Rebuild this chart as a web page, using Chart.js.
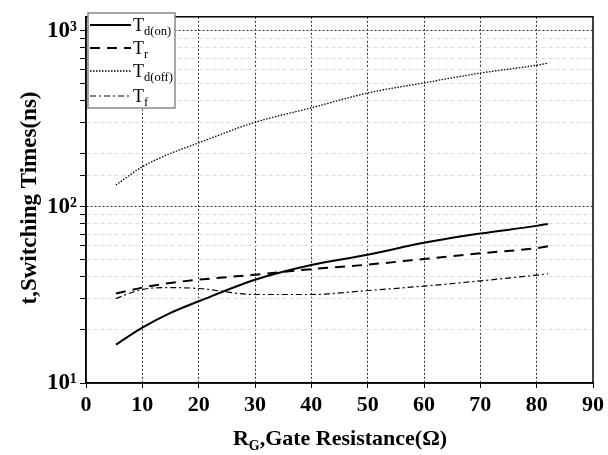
<!DOCTYPE html>
<html>
<head>
<meta charset="utf-8">
<script src="https://cdn.jsdelivr.net/npm/chart.js@4.4.1/dist/chart.umd.min.js"></script>
<style>
  body { margin: 0; background: #fff; }
  #wrap { width: 608px; height: 455px; }
</style>
</head>
<body>
<div id="wrap"><canvas id="switchingChart"></canvas></div>
<script>
// gate resistance (ohm) and switching times (ns)
const rg    = [5.3, 10, 15, 20, 30, 40, 50, 60, 70, 80, 82];
const tdOn  = [16.5, 20.6, 25, 29.1, 38.6, 46.8, 53.5, 62.5, 70.5, 78, 80];
const tr    = [32.2, 34.8, 37, 38.6, 41.2, 44.3, 47, 50.6, 54.5, 58.3, 59.7];
const tdOff = [133, 169, 201, 231, 302, 365, 443, 506, 575, 637, 654];
const tf    = [30.2, 34, 34.8, 34.4, 31.8, 31.8, 33.5, 35.5, 38, 41, 41.7];

const yTickValues = [10, 100, 1000];
const yTickLabels = ['10¹', '10²', '10³'];
const seriesNames = [['T', 'd(on)'], ['T', 'r'], ['T', 'd(off)'], ['T', 'f']];

const FONT = "'Liberation Serif', 'Times New Roman', serif";

function pts(ys) {
    return rg.map((x, i) => ({ x: x, y: ys[i] }));
}

const styles = [
    { borderWidth: 2, borderDash: [] },
    { borderWidth: 2, borderDash: [10, 7] },
    { borderWidth: 1.3, borderDash: [1.5, 1.5] },
    { borderWidth: 1.2, borderDash: [6, 3, 2, 3] }
];

const datasets = [tdOn, tr, tdOff, tf].map((ys, i) => ({
    label: seriesNames[i].join(''),
    data: pts(ys),
    borderColor: '#000',
    borderWidth: styles[i].borderWidth,
    borderDash: styles[i].borderDash,
    pointRadius: 0,
    fill: false,
    cubicInterpolationMode: 'monotone'
}));

const decorPlugin = {
    id: 'decor',
    afterDraw(chart) {
        const ctx = chart.ctx;
        const a = chart.chartArea;
        ctx.save();

        // frame
        ctx.strokeStyle = '#000';
        ctx.lineWidth = 1.5;
        ctx.setLineDash([]);
        ctx.strokeRect(a.left, a.top, a.right - a.left, a.bottom - a.top);

        // legend box
        ctx.fillStyle = '#fff';
        ctx.strokeStyle = '#888';
        ctx.lineWidth = 1.5;
        ctx.fillRect(88, 13, 87, 95);
        ctx.strokeRect(88, 13, 87, 95);

        const rows = [25, 48, 71, 96];
        rows.forEach((y, i) => {
            ctx.strokeStyle = '#000';
            ctx.lineWidth = styles[i].borderWidth;
            ctx.setLineDash(styles[i].borderDash);
            ctx.beginPath();
            ctx.moveTo(90, y);
            ctx.lineTo(131, y);
            ctx.stroke();
            ctx.setLineDash([]);
            ctx.fillStyle = '#000';
            ctx.textAlign = 'left';
            ctx.textBaseline = 'alphabetic';
            ctx.font = '18px ' + FONT;
            ctx.fillText(seriesNames[i][0], 133, y + 6);
            const w = ctx.measureText(seriesNames[i][0]).width;
            ctx.font = '12.5px ' + FONT;
            ctx.fillText(seriesNames[i][1], 133 + w, y + 10);
        });

        // y axis title
        ctx.fillStyle = '#000';
        ctx.font = 'bold 23px ' + FONT;
        ctx.textAlign = 'center';
        ctx.textBaseline = 'middle';
        ctx.save();
        ctx.translate(30, 198);
        ctx.rotate(-Math.PI / 2);
        ctx.fillText('t,Switching Times(ns)', 0, 0);
        ctx.restore();

        // x axis title with subscript G
        const big = 'bold 22px ' + FONT, small = 'bold 14px ' + FONT;
        ctx.textAlign = 'left';
        ctx.textBaseline = 'alphabetic';
        ctx.font = big;
        const wR = ctx.measureText('R').width;
        const rest = ',Gate Resistance(Ω)';
        const wRest = ctx.measureText(rest).width;
        ctx.font = small;
        const wG = ctx.measureText('G').width;
        let x0 = 340 - (wR + wG + wRest) / 2;
        const base = 445;
        ctx.font = big;
        ctx.fillText('R', x0, base);
        ctx.font = small;
        ctx.fillText('G', x0 + wR, base + 5);
        ctx.font = big;
        ctx.fillText(rest, x0 + wR + wG, base);

        ctx.restore();
    }
};

const ctx = document.getElementById('switchingChart').getContext('2d');
new Chart(ctx, {
    type: 'line',
    data: { datasets: datasets },
    options: {
        responsive: true,
        maintainAspectRatio: false,
        animation: false,
        layout: { padding: { left: 0, right: 15, top: 12, bottom: 0 } },
        plugins: {
            legend: { display: false },
            tooltip: { enabled: false }
        },
        scales: {
            x: {
                type: 'linear',
                min: 0,
                max: 90,
                afterFit: s => { s.height = 72; },
                ticks: {
                    stepSize: 10,
                    color: '#000',
                    padding: 4,
                    font: { family: FONT, size: 22, weight: 'bold' }
                },
                grid: {
                    color: c => (c.tick && (c.tick.value === 0 || c.tick.value === 90)) ? 'rgba(0,0,0,0)' : '#333',
                    lineWidth: 1,
                    tickColor: '#000',
                    tickLength: 5
                },
                border: { display: true, color: '#000', width: 1.5, dash: [2, 2] }
            },
            y: {
                type: 'logarithmic',
                min: 10,
                max: 1200,
                afterFit: s => { s.width = 86; },
                ticks: {
                    autoSkip: false,
                    color: '#000',
                    padding: 3,
                    font: { family: FONT, size: 23, weight: 'bold' },
                    callback: v => {
                        const k = yTickValues.indexOf(v);
                        return k >= 0 ? yTickLabels[k] : '';
                    }
                },
                grid: {
                    color: c => {
                        const v = c.tick ? c.tick.value : 0;
                        if (v <= 10 || v >= 1200) return 'rgba(0,0,0,0)';
                        return yTickValues.includes(v) ? '#333' : '#dcdcdc';
                    },
                    lineWidth: 1,
                    tickColor: c => (c.tick && c.tick.value >= 1200) ? 'rgba(0,0,0,0)' : '#000',
                    tickLength: 6
                },
                border: {
                    display: true,
                    color: '#000',
                    width: 1.5,
                    dash: c => {
                        const v = c.tick ? c.tick.value : 0;
                        return yTickValues.includes(v) ? [2, 2] : [4, 3];
                    }
                }
            }
        }
    },
    plugins: [decorPlugin]
});
</script>
</body>
</html>
